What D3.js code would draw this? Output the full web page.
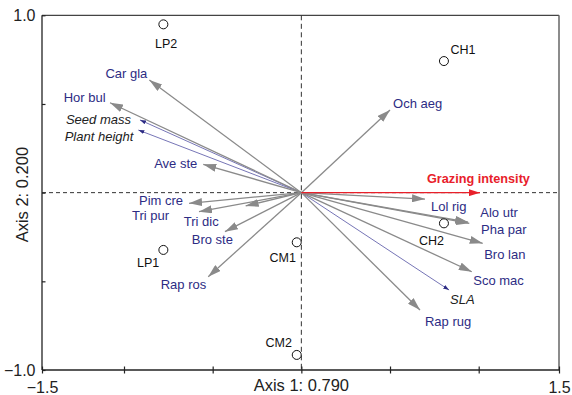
<!DOCTYPE html>
<html>
<head>
<meta charset="utf-8">
<script src="https://cdn.jsdelivr.net/npm/d3@7"></script>
<style>
  body { margin: 0; background: #fff; }
  svg { font-family: "Liberation Sans", Arial, sans-serif; }
  .species { fill: #2d2c84; font-size: 13px; }
  .trait { fill: #222; font-size: 13px; font-style: italic; }
  .site { fill: #111; font-size: 12.5px; }
  .axis text { font-size: 16px; fill: #222; }
  .title { font-size: 16.5px; fill: #222; }
</style>
</head>
<body>
<svg id="chart"></svg>
<script>
/* data */
var siteNames = ["LP2", "LP1", "CM1", "CM2", "CH1", "CH2"];
var siteX = [-0.778, -0.778, -0.026, -0.026, 0.804, 0.804];
var siteY = [0.949, -0.323, -0.280, -0.915, 0.742, -0.173];

var speciesNames = ["Car gla", "Hor bul", "Ave ste", "Pim cre", "Tri pur", "Tri dic", "Bro ste", "Rap ros",
                    "Och aeg", "Lol rig", "Alo utr", "Pha par", "Bro lan", "Sco mac", "Rap rug"];
var speciesX = [-0.857, -1.085, -0.553, -0.633, -0.577, -0.314, -0.431, -0.525,
                0.500, 0.697, 0.947, 0.940, 1.025, 0.961, 0.669];
var speciesY = [0.635, 0.507, 0.160, -0.060, -0.107, -0.075, -0.220, -0.474,
                0.466, -0.036, -0.173, -0.166, -0.286, -0.446, -0.662];

var traitNames = ["Seed mass", "Plant height", "SLA"];
var traitX = [-0.910, -0.919, 0.833];
var traitY = [0.410, 0.353, -0.549];

var gradientName = "Grazing intensity";
var gradientX = 1.008, gradientY = 0;

var xTicks = [-1.5, -1, -0.5, 0, 0.5, 1, 1.5];
var xTickLabels = ["\u22121.5", "", "", "", "", "", "1.5"];
var yTicks = [-1, -0.5, 0, 0.5, 1];
var yTickLabels = ["\u22121.0", "", "", "", "1.0"];
var xTitle = "Axis 1: 0.790", yTitle = "Axis 2: 0.200";

/* label placement: [anchor, dx, dy] from the arrow tip / point, pixels */
var labelPos = {
  "Car gla": ["end", -2, -7], "Hor bul": ["end", -4.5, -5.4], "Ave ste": ["end", -6, -1],
  "Pim cre": ["end", -6, -3.3], "Tri pur": ["end", -30, 4.3], "Tri dic": ["end", -27, 15.7],
  "Bro ste": ["end", 8, 7.6], "Rap ros": ["end", -2, 7.3], "Och aeg": ["start", 3, -6.7],
  "Lol rig": ["start", 6, 7.7], "Alo utr": ["start", 11, -10.6], "Pha par": ["start", 13, 7],
  "Bro lan": ["start", 1.5, 11.4], "Sco mac": ["start", 1.5, 8.3], "Rap rug": ["start", 5, 11],
  "Seed mass": ["end", -9, -0.7], "Plant height": ["end", -5, 6.7], "SLA": ["start", 1, 9],
  "Grazing intensity": ["start", -53, -14.3],
  "LP2": ["middle", 2.7, 19.7], "LP1": ["middle", -15.3, 13], "CM1": ["middle", -14, 15.7],
  "CM2": ["middle", -18, -12.3], "CH1": ["middle", 19, -11], "CH2": ["middle", -12.5, 17.7]
};

var width = 572, height = 395;
var svg = d3.select("#chart").attr("width", width).attr("height", height);

// frame ends sit slightly inside the outer ticks in the original
var x = d3.scaleLinear().domain([-1.5, -1, 1, 1.5]).range([42, 124, 478.7, 559]);
var y = d3.scaleLinear().domain([-1, 1]).range([370, 15.3]);
var x0 = x(0), y0 = y(0);

/* markers */
var defs = svg.append("defs");
function marker(id, len, wid, color) {
  defs.append("marker")
    .attr("id", id)
    .attr("markerUnits", "userSpaceOnUse")
    .attr("viewBox", "0 " + (-wid / 2) + " " + len + " " + wid)
    .attr("refX", len).attr("refY", 0)
    .attr("markerWidth", len).attr("markerHeight", wid)
    .attr("orient", "auto")
    .append("path")
    .attr("d", "M0," + (-wid / 2) + "L" + len + ",0L0," + (wid / 2) + "Z")
    .attr("fill", color);
}
marker("headGrey", 13, 8, "#8a8a8a");
marker("headBlue", 6, 4, "#2d2c84");
marker("headRed", 11, 7, "#e8202a");

/* frame: top and right */
svg.append("line").attr("x1", x(-1.5)).attr("x2", x(1.5)).attr("y1", y(1)).attr("y2", y(1))
  .attr("stroke", "#444").attr("stroke-width", 1.3);
svg.append("line").attr("x1", x(1.5)).attr("x2", x(1.5)).attr("y1", y(1)).attr("y2", y(-1))
  .attr("stroke", "#666").attr("stroke-width", 1.5);

/* zero lines */
svg.append("line").attr("x1", x(-1.5)).attr("x2", x(1.5)).attr("y1", y0).attr("y2", y0)
  .attr("stroke", "#333").attr("stroke-width", 1).attr("stroke-dasharray", "4,3");
svg.append("line").attr("x1", x0).attr("x2", x0).attr("y1", y(1)).attr("y2", y(-1))
  .attr("stroke", "#333").attr("stroke-width", 1).attr("stroke-dasharray", "5,3.5");

/* axes */
var xAxis = d3.axisBottom(x).tickValues(xTicks).tickSize(3.5).tickPadding(5)
  .tickFormat(function (d, i) { return xTickLabels[i]; });
var gx = svg.append("g").attr("class", "axis").attr("transform", "translate(0," + y(-1) + ")").call(xAxis);
gx.select(".domain").attr("d", "M" + x(-1.5) + ",0H" + x(1.5)).attr("stroke", "#222").attr("stroke-width", 1.3);
gx.selectAll(".tick line").attr("y1", -3.5).attr("stroke", "#222").attr("stroke-width", 1.2);

var yAxis = d3.axisLeft(y).tickValues(yTicks).tickSize(3.5).tickPadding(3)
  .tickFormat(function (d, i) { return yTickLabels[i]; });
var gy = svg.append("g").attr("class", "axis").attr("transform", "translate(" + x(-1.5) + ",0)").call(yAxis);
gy.select(".domain").attr("d", "M0," + y(1) + "V" + y(-1)).attr("stroke", "#222").attr("stroke-width", 1.3);
gy.selectAll(".tick line").attr("x2", 3.5).attr("stroke", "#222").attr("stroke-width", 1.2);
gx.selectAll(".tick text").attr("dy", "0.9em");

svg.append("text").attr("class", "title").attr("x", x0).attr("y", 391)
  .attr("text-anchor", "middle").text(xTitle);
svg.append("text").attr("class", "title")
  .attr("transform", "translate(28," + (y0 + 2) + ") rotate(-90)")
  .attr("text-anchor", "middle").text(yTitle);

/* species arrows */
var species = speciesNames.map(function (n, i) { return { name: n, x: speciesX[i], y: speciesY[i] }; });
var traits = traitNames.map(function (n, i) { return { name: n, x: traitX[i], y: traitY[i] }; });
var sites = siteNames.map(function (n, i) { return { name: n, x: siteX[i], y: siteY[i] }; });

svg.append("g").selectAll("line").data(traits).enter().append("line")
  .attr("x1", x0).attr("y1", y0)
  .attr("x2", function (d) { return x(d.x); }).attr("y2", function (d) { return y(d.y); })
  .attr("stroke", "#3b3a96").attr("stroke-width", 0.7)
  .attr("marker-end", "url(#headBlue)");

svg.append("g").selectAll("line").data(species).enter().append("line")
  .attr("x1", x0).attr("y1", y0)
  .attr("x2", function (d) { return x(d.x); }).attr("y2", function (d) { return y(d.y); })
  .attr("stroke", "#8a8a8a").attr("stroke-width", 1.3)
  .attr("marker-end", "url(#headGrey)");

svg.append("line")
  .attr("x1", x0).attr("y1", y0).attr("x2", x(gradientX)).attr("y2", y(gradientY))
  .attr("stroke", "#e8202a").attr("stroke-width", 1.4)
  .attr("marker-end", "url(#headRed)");

/* sites */
svg.append("g").selectAll("circle").data(sites).enter().append("circle")
  .attr("cx", function (d) { return x(d.x); }).attr("cy", function (d) { return y(d.y); })
  .attr("r", 4.5).attr("fill", "#fff").attr("stroke", "#111").attr("stroke-width", 1);

/* labels */
function addLabels(data, cls) {
  svg.append("g").selectAll("text").data(data).enter().append("text")
    .attr("class", cls)
    .attr("x", function (d) { return x(d.x) + labelPos[d.name][1]; })
    .attr("y", function (d) { return y(d.y) + labelPos[d.name][2]; })
    .attr("dy", "0.35em")
    .attr("text-anchor", function (d) { return labelPos[d.name][0]; })
    .text(function (d) { return d.name; });
}
addLabels(species, "species");
addLabels(traits, "trait");
addLabels(sites, "site");
addLabels([{ name: gradientName, x: gradientX, y: gradientY }], "grad");
svg.select(".grad").attr("fill", "#e8202a").style("font-weight", "bold").style("font-size", "12.7px");
</script>
</body>
</html>
